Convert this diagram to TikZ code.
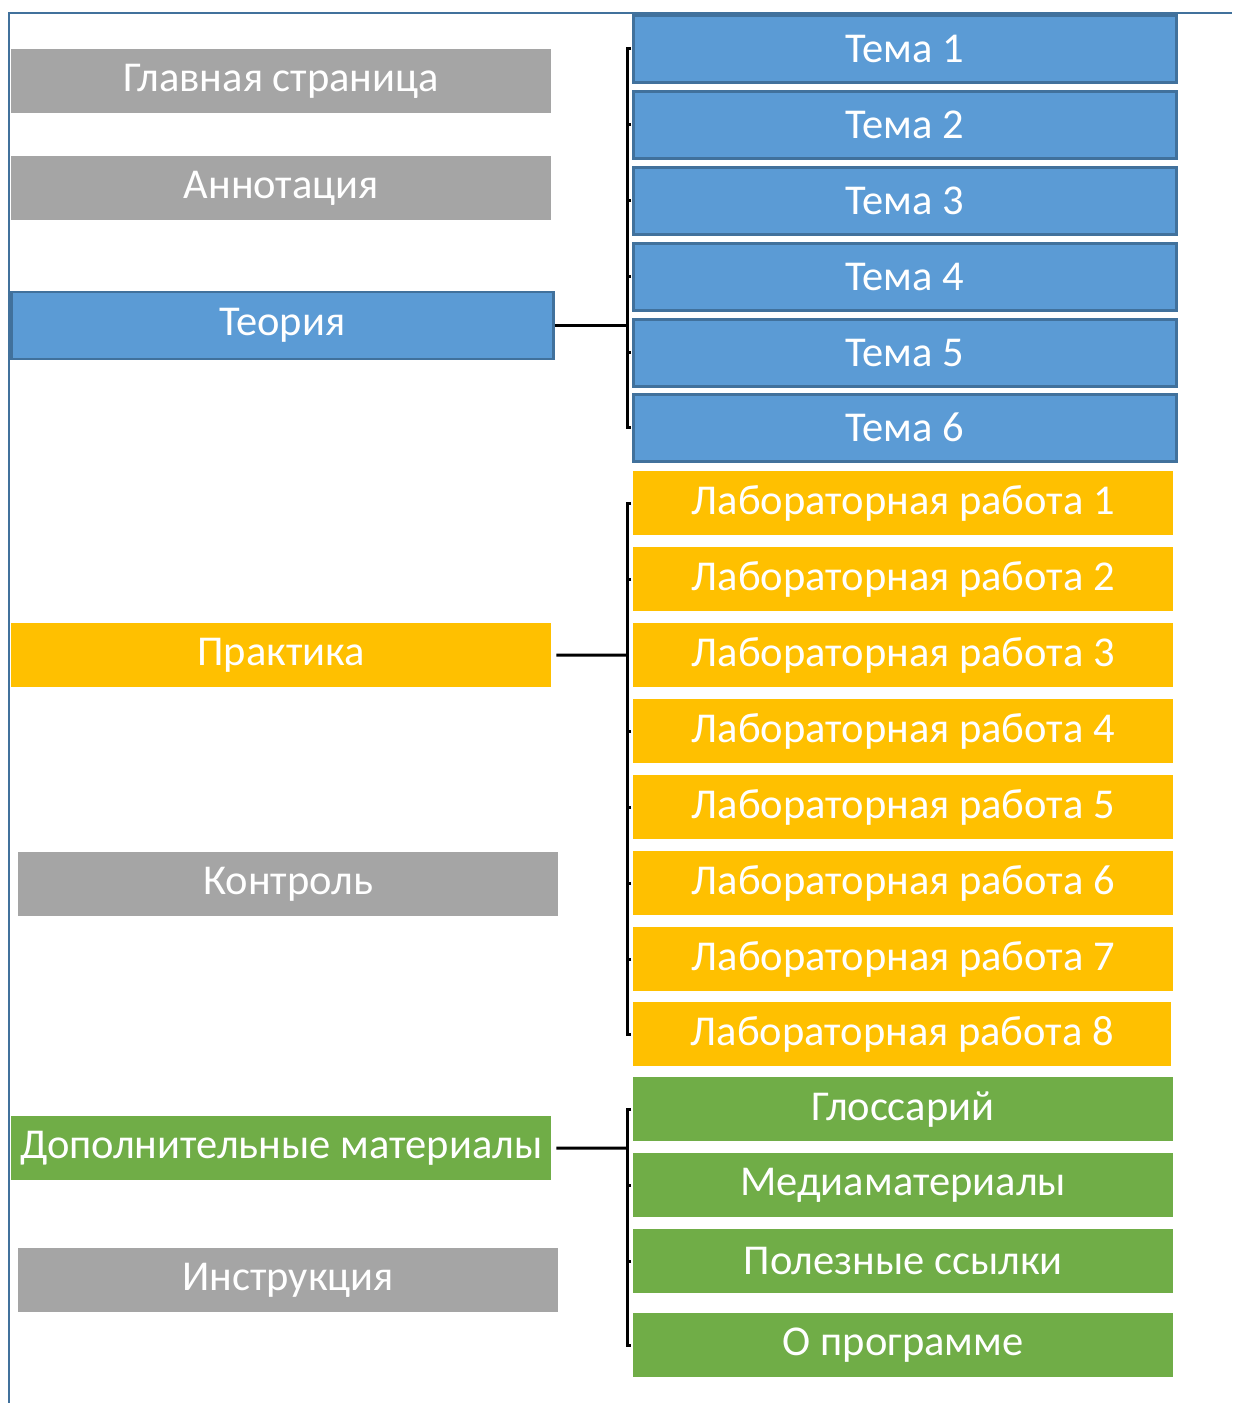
\documentclass[tikz,border=0pt]{standalone}
\usepackage{fontspec}
\setmainfont{Carlito}
\usepackage{xcolor}
\usetikzlibrary{positioning}

\definecolor{pgrey}{HTML}{A5A5A5}
\definecolor{pblue}{HTML}{5B9BD5}
\definecolor{pblueline}{HTML}{41719C}
\definecolor{pgold}{HTML}{FFC000}
\definecolor{pgreen}{HTML}{70AD47}

\begin{document}
\begin{tikzpicture}[x=1pt,y=-1pt,
  item/.style={anchor=north west,inner sep=0pt,text=white,font=\fontsize{42.5}{46}\selectfont},
  menu/.style={item,minimum width=540pt,minimum height=64pt},
  grey/.style={menu,fill=pgrey},
  theme/.style={item,fill=pblue,draw=pblueline,line width=2.5pt,minimum width=543pt,minimum height=67pt},
  lab/.style={item,fill=pgold,minimum width=540pt,minimum height=64pt},
  extra/.style={item,fill=pgreen,minimum width=540pt,minimum height=64pt},
  link/.style={draw=black,line width=3pt},
  bracket/.style={draw=black,line width=3pt}]
\useasboundingbox (0,0) rectangle (1232,1403);
\draw[pblueline,line width=2pt] (9,1403) -- (9,13) -- (1232,13);
% left column
\node[grey] (home) at (11,49) {Главная страница};
\node[grey] (annot) at (11,156) {Аннотация};
\node[theme,minimum width=542pt] (theory) at (10,290.5) {Теория};
\node[menu,fill=pgold] (practice) at (11,623) {Практика};
\node[grey] (control) at (18,852) {Контроль};
\node[menu,fill=pgreen] (extras) at (11,1116) {Дополнительные материалы};
\node[grey] (guide) at (18,1248) {Инструкция};
% themes
\node[theme] (t1) at (632,14) {Тема 1};
\node[theme] (t2) at (632,90) {Тема 2};
\node[theme] (t3) at (632,166) {Тема 3};
\node[theme] (t4) at (632,242) {Тема 4};
\node[theme] (t5) at (632,318) {Тема 5};
\node[theme] (t6) at (632,393) {Тема 6};
% labs
\node[lab] (l1) at (633,471) {Лабораторная работа 1};
\node[lab] (l2) at (633,547) {Лабораторная работа 2};
\node[lab] (l3) at (633,623) {Лабораторная работа 3};
\node[lab] (l4) at (633,699) {Лабораторная работа 4};
\node[lab] (l5) at (633,775) {Лабораторная работа 5};
\node[lab] (l6) at (633,851) {Лабораторная работа 6};
\node[lab] (l7) at (633,927) {Лабораторная работа 7};
\node[lab,minimum width=538pt] (l8) at (633,1002) {Лабораторная работа 8};
% extras
\node[extra] (gloss) at (633,1077) {Глоссарий};
\node[extra] (media) at (633,1153) {Медиаматериалы};
\node[extra] (links) at (633,1229) {Полезные ссылки};
\node[extra] (about) at (633,1313) {О программе};
% connectors
\coordinate (tb) at (627,324);
\coordinate (pb) at (627,655);
\coordinate (eb) at (627,1148);
\draw[link] (theory.east) -- (theory.east -| tb);
\draw[link] ([xshift=5pt]practice.east) -- (pb);
\draw[link] ([xshift=5pt]extras.east) -- (eb);
\draw[bracket] ([xshift=-1pt]t1.west) -| (tb) |- ([xshift=-1pt]t6.west);
\draw[bracket] ([xshift=-1pt]t2.west) -- (tb |- t2.west);
\draw[bracket] ([xshift=-1pt]t3.west) -- (tb |- t3.west);
\draw[bracket] ([xshift=-1pt]t4.west) -- (tb |- t4.west);
\draw[bracket] ([xshift=-1pt]t5.west) -- (tb |- t5.west);
\draw[bracket] ([xshift=-2pt]l1.west) -| (pb) |- ([xshift=-2pt]l8.west);
\draw[bracket] ([xshift=-2pt]l2.west) -- (pb |- l2.west);
\draw[bracket] ([xshift=-2pt]l4.west) -- (pb |- l4.west);
\draw[bracket] ([xshift=-2pt]l5.west) -- (pb |- l5.west);
\draw[bracket] ([xshift=-2pt]l6.west) -- (pb |- l6.west);
\draw[bracket] ([xshift=-2pt]l7.west) -- (pb |- l7.west);
\draw[bracket] ([xshift=-2pt]gloss.west) -| (eb) |- ([xshift=-2pt]about.west);
\draw[bracket] ([xshift=-2pt]media.west) -- (eb |- media.west);
\draw[bracket] ([xshift=-2pt]links.west) -- (eb |- links.west);
\end{tikzpicture}
\end{document}
